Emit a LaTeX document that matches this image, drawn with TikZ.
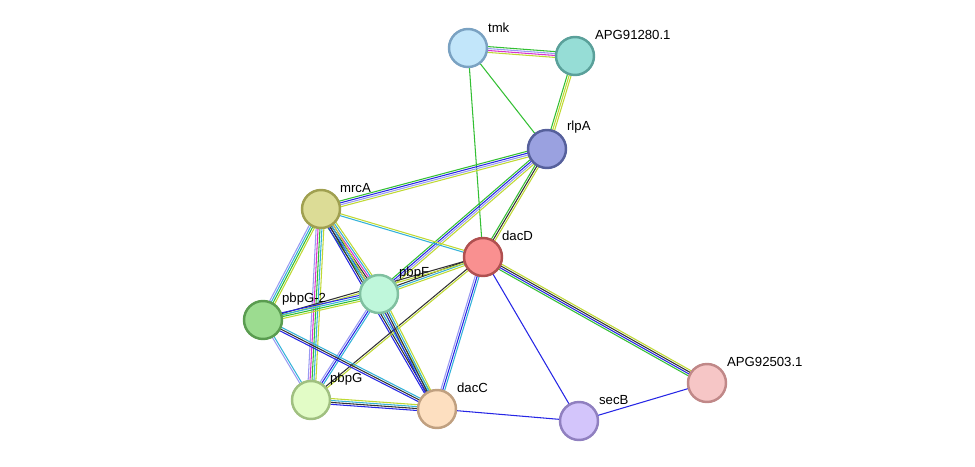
\documentclass[tikz,border=0pt]{standalone}
\usepackage{fontspec}
\setmainfont{Liberation Sans}
\usetikzlibrary{calc,backgrounds}
\definecolor{ctm}{rgb}{0.75,0.85,0.2}
\definecolor{cbk}{rgb}{0.2,0.2,0.2}
\definecolor{cbl}{rgb}{0.15,0.15,0.9}
\definecolor{cmg}{rgb}{0.85,0.2,0.8}
\definecolor{ccy}{rgb}{0.2,0.7,0.85}
\definecolor{cgr}{rgb}{0.2,0.75,0.2}
\definecolor{clv}{rgb}{0.6,0.6,0.95}
\tikzset{
  prot/.style={circle,minimum size=0.76cm,line width=1.4pt,inner sep=0pt},
  lab/.style={font=\fontsize{7.5}{8}\selectfont,inner sep=1pt},
}
\newcommand\link[4]{%
  \foreach \c [count=\i] in {#4} {%
    \pgfmathsetmacro\o{(\i-(#3+1)/2)*1.1}
    \draw[\c,line width=0.6pt] ($(#1.center)!\o pt!90:(#2.center)$) -- ($(#2.center)!\o pt!-90:(#1.center)$);
  }}
\begin{document}
\begin{tikzpicture}[x=0.02cm,y=-0.02cm]
\useasboundingbox (0,0) rectangle (975,467);
%
\node[prot,draw={rgb,255:red,122;green,162;blue,194},fill={rgb,255:red,194;green,230;blue,250}] (tmk) at (468,48) {};
\node[prot,draw={rgb,255:red,90;green,160;blue,154},fill={rgb,255:red,150;green,221;blue,214}] (apg1) at (575,56) {};
\node[prot,draw={rgb,255:red,86;green,96;blue,156},fill={rgb,255:red,154;green,161;blue,224}] (rlpA) at (547,149) {};
\node[prot,draw={rgb,255:red,160;green,160;blue,80},fill={rgb,255:red,220;green,220;blue,150}] (mrcA) at (321,209) {};
\node[prot,draw={rgb,255:red,176;green,80;blue,80},fill={rgb,255:red,249;green,144;blue,144}] (dacD) at (483,257) {};
\node[prot,draw={rgb,255:red,128;green,192;blue,160},fill={rgb,255:red,191;green,247;blue,219}] (pbpF) at (379,294) {};
\node[prot,draw={rgb,255:red,90;green,156;blue,80},fill={rgb,255:red,156;green,220;blue,144}] (pbpG2) at (263,320) {};
\node[prot,draw={rgb,255:red,160;green,192;blue,128},fill={rgb,255:red,226;green,252;blue,198}] (pbpG) at (311,400) {};
\node[prot,draw={rgb,255:red,192;green,160;blue,128},fill={rgb,255:red,253;green,223;blue,192}] (dacC) at (437,409) {};
\node[prot,draw={rgb,255:red,144;green,128;blue,192},fill={rgb,255:red,211;green,197;blue,251}] (secB) at (579,421) {};
\node[prot,draw={rgb,255:red,192;green,136;blue,136},fill={rgb,255:red,246;green,198;blue,198}] (apg2) at (707,383) {};
%
\node[lab,anchor=west] (ltmk) at (486,28) {tmk};
\node[lab,anchor=west] (lapg1) at (593,35) {APG91280.1};
\node[lab,anchor=west] (lrlpA) at (565,127) {rlpA};
\node[lab,anchor=west] (lmrcA) at (338,188) {mrcA};
\node[lab,anchor=west] (ldacD) at (500,236) {dacD};
\node[lab,anchor=west] (lpbpF) at (397,273) {pbpF};
\node[lab,anchor=west] (lpbpG2) at (280,299) {pbpG-2};
\node[lab,anchor=west] (lpbpG) at (328,379) {pbpG};
\node[lab,anchor=west] (ldacC) at (455,388) {dacC};
\node[lab,anchor=west] (lsecB) at (597,400) {secB};
\node[lab,anchor=west] (lapg2) at (725,362) {APG92503.1};
%
\begin{pgfonlayer}{background}
\link{tmk}{apg1}{4}{ctm,cmg,clv,cgr}
\link{tmk}{rlpA}{1}{cgr}
\link{tmk}{dacD}{1}{cgr}
\link{apg1}{rlpA}{3}{cgr,ctm,ctm}
\link{rlpA}{mrcA}{4}{cgr,cbl,clv,ctm}
\link{rlpA}{dacD}{3}{cgr,cbk,ctm}
\link{rlpA}{pbpF}{4}{cgr,cbl,clv,ctm}
\link{mrcA}{dacD}{2}{ccy,ctm}
\link{mrcA}{pbpF}{6}{cgr,cbl,cbk,cmg,ccy,ctm}
\link{mrcA}{pbpG2}{4}{clv,ccy,cgr,ctm}
\link{mrcA}{pbpG}{5}{clv,cmg,cgr,ccy,ctm}
\link{mrcA}{dacC}{4}{cbl,cbk,ccy,ctm}
\link{dacD}{pbpF}{3}{cbk,ccy,ctm}
\link{dacD}{pbpG2}{2}{cbk,ctm}
\link{dacD}{pbpG}{2}{cbk,ctm}
\link{dacD}{dacC}{3}{clv,cbl,ccy}
\link{dacD}{secB}{1}{cbl}
\link{dacD}{apg2}{4}{cgr,cbl,cbk,ctm}
\link{pbpF}{pbpG2}{4}{cbl,ccy,cgr,ctm}
\link{pbpF}{pbpG}{3}{clv,cbl,ccy}
\link{pbpF}{dacC}{4}{cbl,cbk,ccy,ctm}
\link{pbpG2}{pbpG}{2}{clv,ccy}
\link{pbpG2}{dacC}{3}{cbl,cbk,ccy}
\link{pbpG}{dacC}{4}{cbl,cbk,ccy,ctm}
\link{dacC}{secB}{1}{cbl}
\link{secB}{apg2}{1}{cbl}
\end{pgfonlayer}
\end{tikzpicture}
\end{document}
